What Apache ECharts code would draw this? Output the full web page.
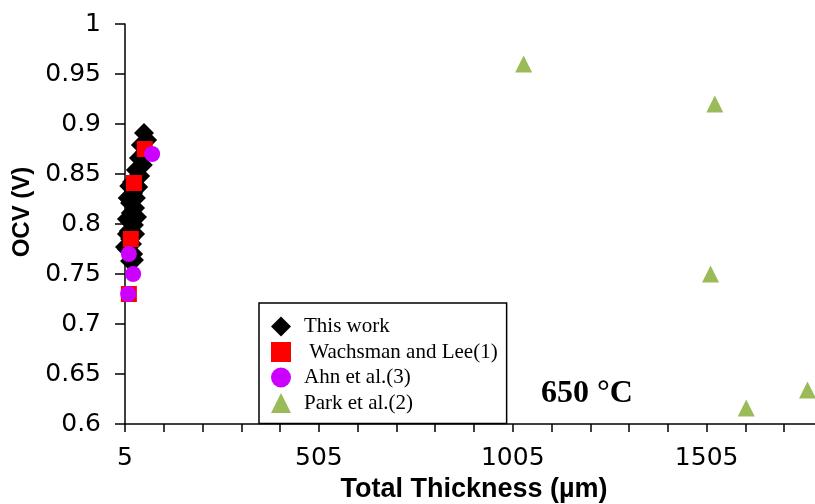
<!DOCTYPE html>
<html>
<head>
<meta charset="utf-8">
<script src="https://cdn.jsdelivr.net/npm/echarts@6/dist/echarts.min.js"></script>
<style>
  html, body { margin: 0; padding: 0; background: #fff; }
  #chart { width: 815px; height: 504px; }
</style>
</head>
<body>
<div id="chart"></div>
<script>
// Open-circuit voltage versus total cell thickness at 650 °C
const thisWorkThickness = [54, 62, 46, 57, 41, 51, 33, 44, 23, 16, 39, 26, 33, 12, 18, 31, 20, 10, 36, 18, 28, 15, 10, 31, 18, 23, 5, 10, 26, 18, 28];
const thisWorkOcv       = [0.891, 0.884, 0.879, 0.872, 0.866, 0.859, 0.854, 0.848, 0.842, 0.838, 0.837, 0.831, 0.826, 0.826, 0.821, 0.816, 0.811, 0.805, 0.807, 0.802, 0.799, 0.793, 0.790, 0.790, 0.785, 0.780, 0.777, 0.775, 0.770, 0.763, 0.764];

const wachsmanThickness = [56, 28, 20, 15];
const wachsmanOcv       = [0.875, 0.841, 0.785, 0.730];

const ahnThickness = [75, 15, 26, 13];
const ahnOcv       = [0.870, 0.770, 0.750, 0.730];

const parkThickness = [1033, 1526, 1515, 1607, 1765];
const parkOcv       = [0.960, 0.920, 0.750, 0.616, 0.634];

const seriesNames = ['This work', ' Wachsman and Lee(1)', 'Ahn et al.(3)', 'Park et al.(2)'];

const xMin = 5, xMax = 1805, xStep = 100, xLabelStep = 500;
const yMin = 0.6, yMax = 1, yStep = 0.05;

const pairs = (xs, ys) => xs.map((x, i) => [x, ys[i]]);

const chart = echarts.init(document.getElementById('chart'), null, { renderer: 'canvas' });

const tickFont = { fontFamily: 'DejaVu Sans', fontSize: 25, color: '#000' };

chart.setOption({
  animation: false,
  backgroundColor: '#fff',
  grid: { left: 125, right: -8, top: 24, bottom: 80, containLabel: false, outerBoundsMode: 'none' },
  xAxis: {
    type: 'value',
    min: xMin, max: xMax, interval: xStep,
    name: 'Total Thickness (µm)',
    nameLocation: 'middle',
    nameGap: 50,
    nameTextStyle: { fontFamily: 'Liberation Sans', fontWeight: 'bold', fontSize: 27, color: '#000' },
    axisLine: { show: true, onZero: false, lineStyle: { color: '#000', width: 1.5 } },
    axisTick: { show: true, inside: false, length: 8, lineStyle: { color: '#000', width: 1.5 } },
    axisLabel: Object.assign({
      margin: 22,
      showMaxLabel: false,
      formatter: v => ((v - xMin) % xLabelStep === 0 ? String(v) : '')
    }, tickFont),
    splitLine: { show: false }
  },
  yAxis: {
    type: 'value',
    min: yMin, max: yMax, interval: yStep,
    name: 'OCV (V)',
    nameLocation: 'middle',
    nameRotate: 90,
    nameGap: 88,
    nameTextStyle: { fontFamily: 'Liberation Sans', fontWeight: 'bold', fontSize: 24, color: '#000', padding: [0, 0, 0, 24] },
    axisLine: { show: true, onZero: false, lineStyle: { color: '#000', width: 1.5 } },
    axisTick: { show: true, inside: false, length: 10, lineStyle: { color: '#000', width: 1.5 } },
    axisLabel: Object.assign({ margin: 24 }, tickFont),
    splitLine: { show: false }
  },
  legend: {
    orient: 'vertical',
    left: 259,
    top: 303,
    padding: [13, 9, 10, 12],
    itemWidth: 20,
    itemHeight: 20,
    itemGap: 4.5,
    backgroundColor: '#fff',
    borderColor: '#000',
    borderWidth: 1.5,
    borderRadius: 0,
    formatter: name => '{gap|}' + name,
    textStyle: {
      fontFamily: 'Liberation Serif', fontSize: 21, lineHeight: 21, color: '#000',
      rich: { gap: { width: 8 } }
    },
    data: seriesNames
  },
  graphic: [{
    type: 'text',
    left: 541,
    top: 378,
    z: 10,
    style: { text: '650 °C', fontFamily: 'Liberation Serif', fontWeight: 'bold', fontSize: 32, fill: '#000' }
  }],
  series: [
    {
      name: seriesNames[0], type: 'scatter', symbol: 'diamond', symbolSize: 20,
      itemStyle: { color: '#000', opacity: 1 },
      data: pairs(thisWorkThickness, thisWorkOcv)
    },
    {
      name: seriesNames[1], type: 'scatter', symbol: 'rect', symbolSize: 16,
      itemStyle: { color: '#ff0000', opacity: 1 },
      data: pairs(wachsmanThickness, wachsmanOcv)
    },
    {
      name: seriesNames[2], type: 'scatter', symbol: 'circle', symbolSize: 16,
      itemStyle: { color: '#cc00ff', opacity: 1 },
      data: pairs(ahnThickness, ahnOcv)
    },
    {
      name: seriesNames[3], type: 'scatter', symbol: 'triangle', symbolSize: 17,
      itemStyle: { color: '#9bbb59', opacity: 1 },
      data: pairs(parkThickness, parkOcv)
    }
  ]
});
</script>
</body>
</html>
